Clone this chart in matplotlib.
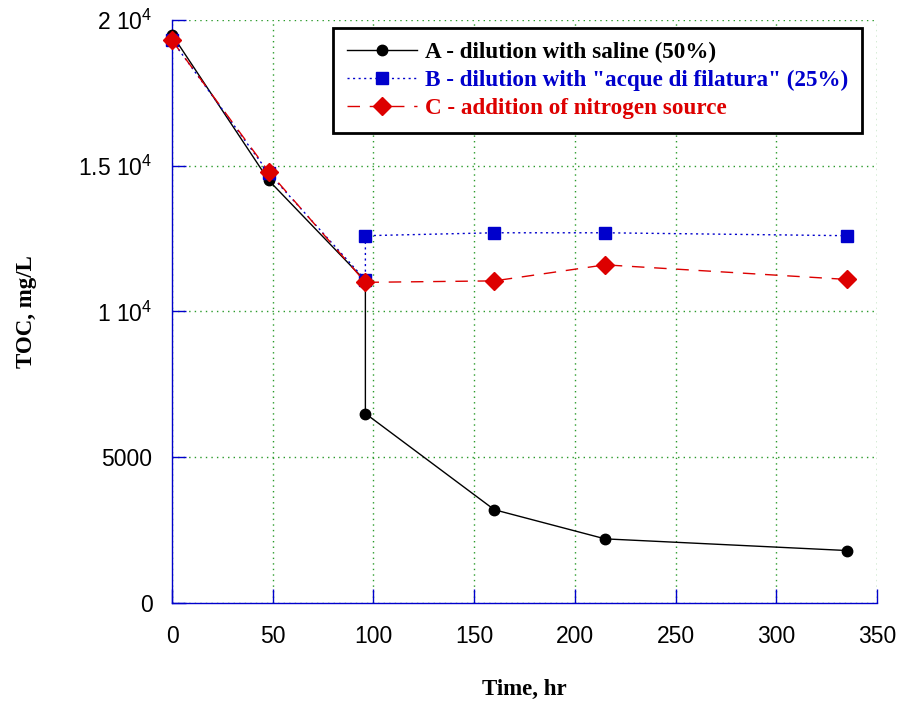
import matplotlib
matplotlib.use("Agg")
import matplotlib.pyplot as plt

plt.rcParams["mathtext.fontset"] = "custom"
plt.rcParams["mathtext.rm"] = "Liberation Sans"
plt.rcParams["mathtext.it"] = "Liberation Sans"

# TOC over time for the three treatments
time_a = [0, 48, 96, 96, 160, 215, 335]
toc_a = [19500, 14500, 11050, 6500, 3200, 2200, 1800]

time_b = [0, 48, 96, 96, 160, 215, 335]
toc_b = [19300, 14750, 11080, 12600, 12700, 12700, 12600]

time_c = [0, 48, 96, 160, 215, 335]
toc_c = [19300, 14800, 11000, 11050, 11600, 11100]

x_ticks = [0, 50, 100, 150, 200, 250, 300, 350]
y_ticks = [0, 5000, 10000, 15000, 20000]
y_tick_labels = ["0", "5000", "1 10$^{4}$", "1.5 10$^{4}$", "2 10$^{4}$"]

fig = plt.figure(figsize=(9.01, 7.11), dpi=100)
ax = fig.add_axes([0.1909, 0.1519, 0.7825, 0.8200])

blue = "#0000cc"
red = "#dd0000"

ax.plot(time_a, toc_a, color="black", lw=1.0, marker="o", ms=7.5,
        label="A - dilution with saline (50%)", clip_on=False, zorder=3)
ax.plot(time_b, toc_b, color=blue, lw=1.0, ls=(0, (1.5, 2.5)), marker="s", ms=9,
        label="B - dilution with \"acque di filatura\" (25%)", clip_on=False, zorder=4)
ax.plot(time_c, toc_c, color=red, lw=1.0, ls=(0, (9, 7)), marker="D", ms=9,
        label="C - addition of nitrogen source", clip_on=False, zorder=5)

ax.set_xlim(0, 350)
ax.set_ylim(0, 20000)
ax.set_xticks(x_ticks)
ax.set_yticks(y_ticks)
ax.set_yticklabels(y_tick_labels)

ax.grid(True, color="#2a9a2a", ls=(0, (1, 3)), lw=1.0)
for side in ["top", "right"]:
    ax.spines[side].set_visible(False)
for side in ["left", "bottom"]:
    ax.spines[side].set_color(blue)
    ax.spines[side].set_linewidth(1.0)

ax.tick_params(direction="in", length=10, color=blue, width=1.0, labelsize=16.5)
ax.tick_params(axis="x", pad=16)
ax.tick_params(axis="y", pad=14)
for lbl in ax.get_xticklabels() + ax.get_yticklabels():
    lbl.set_fontfamily("Liberation Sans")

ax.set_xlabel("Time, hr", fontfamily="Liberation Serif", fontweight="bold",
              fontsize=16.5, labelpad=22)
ax.set_ylabel("TOC, mg/L", fontfamily="Liberation Serif", fontweight="bold",
              fontsize=16.5, labelpad=30)

leg = ax.legend(loc="upper right", bbox_to_anchor=(0.9567, 0.9606),
                bbox_transform=fig.transFigure, borderaxespad=0,
                fancybox=False, framealpha=1, edgecolor="black",
                handlelength=3.0, handletextpad=0.35, labelspacing=0.28,
                borderpad=0.6,
                prop={"family": "Liberation Serif", "weight": "bold", "size": 16.7})
leg.get_frame().set_linewidth(2.0)
for txt, col in zip(leg.get_texts(), ["black", blue, red]):
    txt.set_color(col)

fig.savefig("out.png", dpi=100)
